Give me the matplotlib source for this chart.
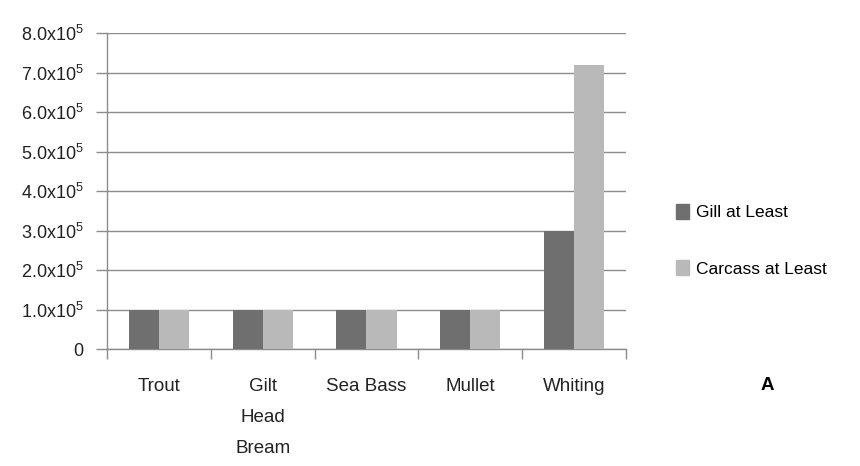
import numpy as np
import matplotlib
matplotlib.use("Agg")
import matplotlib.pyplot as plt
from matplotlib.patches import Patch

species = ["Trout", "Gilt\nHead\nBream", "Sea Bass", "Mullet", "Whiting"]
gill_at_least = [1.0e5, 1.0e5, 1.0e5, 1.0e5, 3.0e5]
carcass_at_least = [1.0e5, 1.0e5, 1.0e5, 1.0e5, 7.2e5]
ytick_vals = [0, 1e5, 2e5, 3e5, 4e5, 5e5, 6e5, 7e5, 8e5]
ytick_text = ["0"] + [f"{v:.1f}x10$^5$" for v in range(1, 9)]

plt.rcParams.update({
    "font.family": ["Liberation Sans", "DejaVu Sans"],
    "mathtext.fontset": "custom",
    "mathtext.rm": "Liberation Sans",
    "mathtext.it": "Liberation Sans",
})

dark = "#6f6f6f"
light = "#b9b9b9"
axis_grey = "#8c8c8c"

fig = plt.figure(figsize=(8.6, 4.66), dpi=100)
ax = fig.add_axes([0.1244, 0.251, 0.6035, 0.678])

x = np.arange(len(species))
w = 0.29
ax.bar(x - w / 2, gill_at_least, w, color=dark, zorder=3)
ax.bar(x + w / 2, carcass_at_least, w, color=light, zorder=3)

ax.set_xlim(-0.5, len(species) - 0.5)
ax.set_ylim(0, 8e5)
ax.set_yticks(ytick_vals)
ax.set_yticklabels(ytick_text, fontsize=13, color="#222222")
ax.yaxis.grid(True, color=axis_grey, lw=1.0, zorder=0)
ax.tick_params(axis="y", length=8, color=axis_grey, width=1.0, pad=9)

# category labels centred, tick marks at the group boundaries
ax.set_xticks(x)
ax.set_xticklabels(species, fontsize=13.5, color="#222222", linespacing=2.05, va="top")
ax.tick_params(axis="x", which="major", length=0, pad=21)
ax.set_xticks(np.arange(-0.5, len(species)), minor=True)
ax.tick_params(axis="x", which="minor", length=7, color=axis_grey, width=1.0)

for side in ("top", "right"):
    ax.spines[side].set_visible(False)
for side in ("left", "bottom"):
    ax.spines[side].set_color(axis_grey)
    ax.spines[side].set_linewidth(1.0)

handles = [Patch(color=dark, label="Gill at Least"),
           Patch(color=light, label="Carcass at Least")]
fig.legend(handles=handles, loc="center left", bbox_to_anchor=(0.768, 0.484),
           frameon=False, fontsize=12.5, handlelength=0.75, handleheight=0.9,
           handletextpad=0.4, labelspacing=2.3)

fig.text(0.892, 0.172, "A", fontsize=13.5, fontweight="bold", ha="center", va="center")

fig.savefig("out.png", dpi=100)
